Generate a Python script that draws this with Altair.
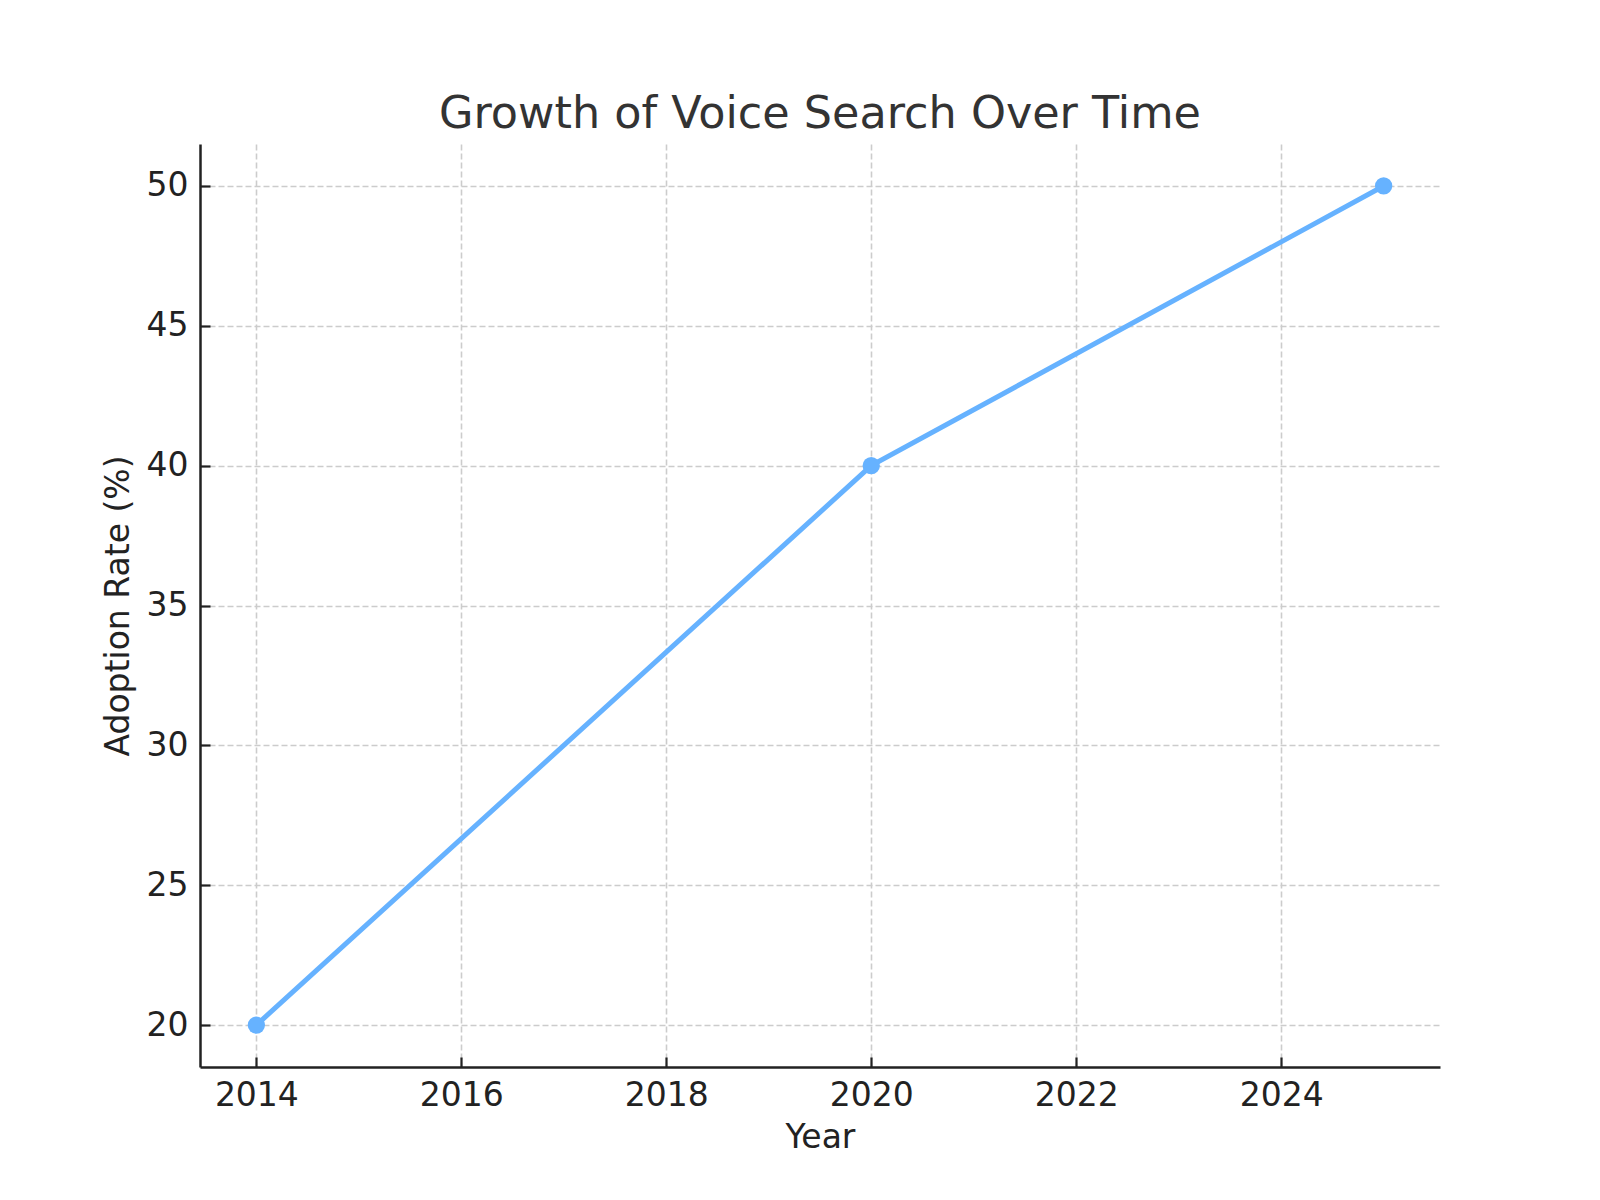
import altair as alt
import pandas as pd

years = [2014, 2020, 2025]
rates = [20, 40, 50]
x_ticks = [2014, 2016, 2018, 2020, 2022, 2024]
y_ticks = [20, 25, 30, 35, 40, 45, 50]

df = pd.DataFrame({"Year": years, "Rate": rates})

W, H = 1240, 923
FONT = "DejaVu Sans"
LINE_COLOR = "#66b2ff"
AX_COLOR = "#222222"

xscale = alt.Scale(domain=[2013.45, 2025.55], nice=False, zero=False)
yscale = alt.Scale(domain=[18.5, 51.5], nice=False, zero=False)

common = dict(
    format="d", ticks=True, tickSize=alt.ExprRef(expr="-10"), tickWidth=2.2,
    tickColor=AX_COLOR, labelPadding=22, labelFontSize=33, labelColor=AX_COLOR,
    labelFont=FONT, titleFont=FONT, titleFontSize=33, titleFontWeight="normal",
    titleColor=AX_COLOR, domainColor=AX_COLOR, domainWidth=2.5,
    grid=True, gridColor="#cccccc", gridDash=[6, 3], gridWidth=1.6,
)

x_axis = alt.Axis(values=x_ticks, title="Year", orient="bottom", titlePadding=9, **common)
y_axis = alt.Axis(values=y_ticks, title="Adoption Rate (%)", orient="left", titlePadding=11, **common)

chart = (
    alt.Chart(df)
    .mark_line(
        color=LINE_COLOR, strokeWidth=5,
        point=alt.OverlayMarkDef(filled=True, fill=LINE_COLOR, size=300, opacity=1, shape="circle"),
    )
    .encode(
        x=alt.X("Year:Q", scale=xscale, axis=x_axis),
        y=alt.Y("Rate:Q", scale=yscale, axis=y_axis),
    )
    .properties(
        width=W,
        height=H,
        autosize=alt.AutoSizeParams(type="none"),
        padding={"left": 200, "top": 144, "right": 160, "bottom": 133},
        background="white",
        title=alt.TitleParams(
            "Growth of Voice Search Over Time",
            font=FONT, fontSize=44.5, fontWeight="normal", color="#333333",
            anchor="middle", offset=16, baseline="alphabetic", dy=44,
        ),
    )
    .configure_view(stroke=None)
)

chart.save("out.html", embed_options={"renderer": "svg", "actions": False})
